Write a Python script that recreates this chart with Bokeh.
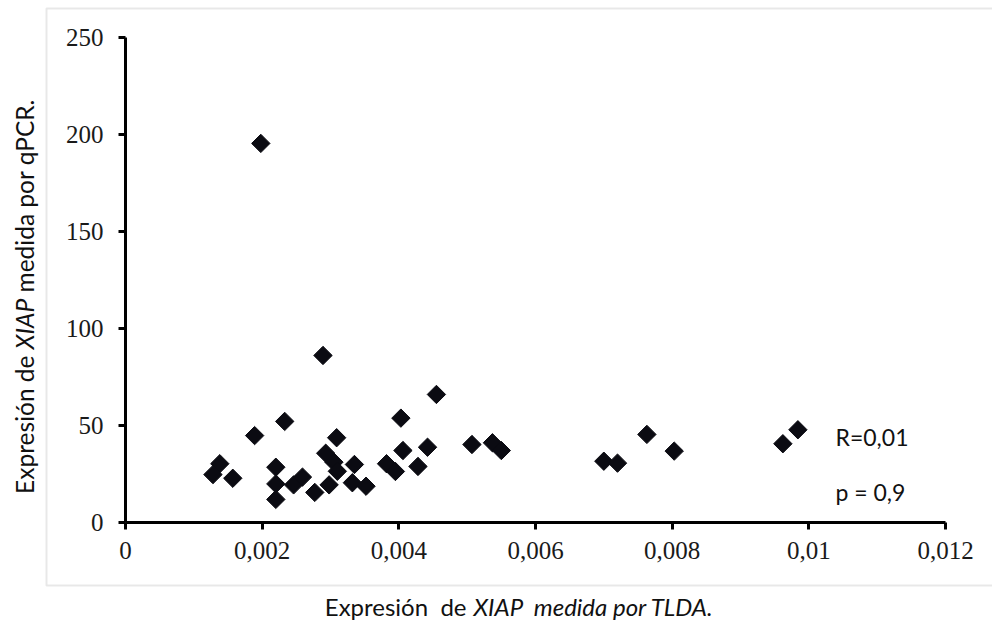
import numpy as np
from bokeh.plotting import figure
from bokeh.models import Range1d, FixedTicker, Label, BoxAnnotation, LinearAxis
from bokeh.embed import file_html
from bokeh.resources import INLINE

# ---- data ----
tlda = [0.00198, 0.00289, 0.00233, 0.00189, 0.00138, 0.00128, 0.00157, 0.00220,
        0.00220, 0.00220, 0.00246, 0.00259, 0.00277, 0.00298, 0.00293, 0.00309,
        0.00305, 0.00310, 0.00335, 0.00332, 0.00352, 0.00455, 0.00403, 0.00406,
        0.00442, 0.00382, 0.00395, 0.00428, 0.00507, 0.00537, 0.00550, 0.00700,
        0.00720, 0.00763, 0.00803, 0.00962, 0.00984]
qpcr = [195.4, 86.1, 52.1, 44.8, 30.3, 24.7, 22.8, 28.5,
        19.9, 11.9, 19.4, 23.4, 15.5, 19.4, 35.7, 43.7,
        31.1, 26.4, 29.9, 20.5, 18.7, 66.0, 53.8, 37.1,
        38.8, 30.3, 26.3, 28.9, 40.2, 41.1, 37.1, 31.6,
        30.6, 45.4, 36.8, 40.6, 47.8]
x_ticks = [0, 0.002, 0.004, 0.006, 0.008, 0.01, 0.012]
x_tick_labels = ["0", "0,002", "0,004", "0,006", "0,008", "0,01", "0,012"]
y_ticks = [0, 50, 100, 150, 200, 250]
y_tick_labels = ["0", "50", "100", "150", "200", "250"]
stats_text = ["R=0,01", "p = 0,9"]

# ---- layout constants (pixels) ----
W, H = 992, 629
FL, FR, FT, FB = 125, 945, 37, 522       # where the axes box sits
X0, X1 = 0.0, 0.012
Y0, Y1 = 0.0, 250.0
SX = (X1 - X0) / (FR - FL)
SY = (Y1 - Y0) / (FB - FT)

def px_x(px):
    return X0 + (px - FL) * SX

def px_y(py):
    return Y0 + (FB - py) * SY

p = figure(width=W, height=H, output_backend="svg", toolbar_location=None,
           x_range=Range1d(px_x(0), px_x(W)), y_range=Range1d(px_y(H), px_y(0)),
           x_axis_location=None, y_axis_location=None,
           min_border=0, min_border_left=0, min_border_right=0,
           min_border_top=0, min_border_bottom=0)
p.outline_line_color = None
p.grid.visible = False
p.background_fill_color = "white"
p.border_fill_color = "white"

xaxis = LinearAxis(fixed_location=Y0, bounds=(X0, X1), ticker=FixedTicker(ticks=x_ticks),
                   major_label_overrides={t: l for t, l in zip(x_ticks, x_tick_labels)},
                   major_label_standoff=12)
yaxis = LinearAxis(fixed_location=X0, bounds=(Y0, Y1), ticker=FixedTicker(ticks=y_ticks),
                   major_label_overrides={t: l for t, l in zip(y_ticks, y_tick_labels)},
                   major_label_standoff=15)
for ax in (xaxis, yaxis):
    ax.axis_line_width = 3
    ax.axis_line_color = "black"
    ax.major_tick_line_width = 3
    ax.major_tick_line_color = "black"
    ax.major_tick_out = 7
    ax.major_tick_in = 0
    ax.minor_tick_line_color = None
    ax.major_label_text_font = "Times"
    ax.major_label_text_font_size = "25px"
    ax.major_label_text_color = "#1a1a1a"
p.add_layout(xaxis, "below")
p.add_layout(yaxis, "left")

# gray frame around the chart
p.add_layout(BoxAnnotation(left=px_x(46), right=px_x(1010), top=px_y(8), bottom=px_y(585),
                           fill_alpha=0, line_color="#b4b4b4", line_width=2))

p.scatter(tlda, qpcr, marker="square", size=13, angle=np.pi / 4,
          fill_color="#0b0b12", line_color="#0b0b12")

TF = "Lato"
# x axis title (mixed styles)
p.add_layout(Label(x=px_x(466), y=px_y(606), text="Expresión\u00a0 de", text_font=TF,
                   text_font_size="24px", text_align="right", text_baseline="alphabetic",
                   text_color="#111111"))
p.add_layout(Label(x=px_x(473), y=px_y(606), text="XIAP\u00a0 medida por TLDA.", text_font=TF,
                   text_font_size="24px", text_font_style="italic", text_align="left",
                   text_baseline="alphabetic", text_color="#111111"))
# y axis title (rotated, mixed styles)
YT = 24
p.add_layout(Label(x=px_x(YT), y=px_y(355), text="Expresión de", text_font=TF,
                   text_font_size="24.5px", text_align="right", text_baseline="alphabetic",
                   angle=np.pi / 2, text_color="#111111"))
p.add_layout(Label(x=px_x(YT), y=px_y(349), text="XIAP", text_font=TF,
                   text_font_size="24.5px", text_font_style="italic", text_align="left",
                   text_baseline="alphabetic", angle=np.pi / 2, text_color="#111111"))
p.add_layout(Label(x=px_x(YT), y=px_y(292), text="medida por qPCR.", text_font=TF,
                   text_font_size="24.5px", text_align="left", text_baseline="alphabetic",
                   angle=np.pi / 2, text_color="#111111"))
# statistics
p.add_layout(Label(x=px_x(835), y=px_y(436), text=stats_text[0], text_font=TF,
                   text_font_size="23px", text_align="left", text_baseline="middle",
                   text_color="#111111"))
p.add_layout(Label(x=px_x(835), y=px_y(491), text=stats_text[1], text_font=TF,
                   text_font_size="23px", text_align="left", text_baseline="middle",
                   text_color="#111111"))

open("out.html", "w").write(file_html(p, INLINE))
